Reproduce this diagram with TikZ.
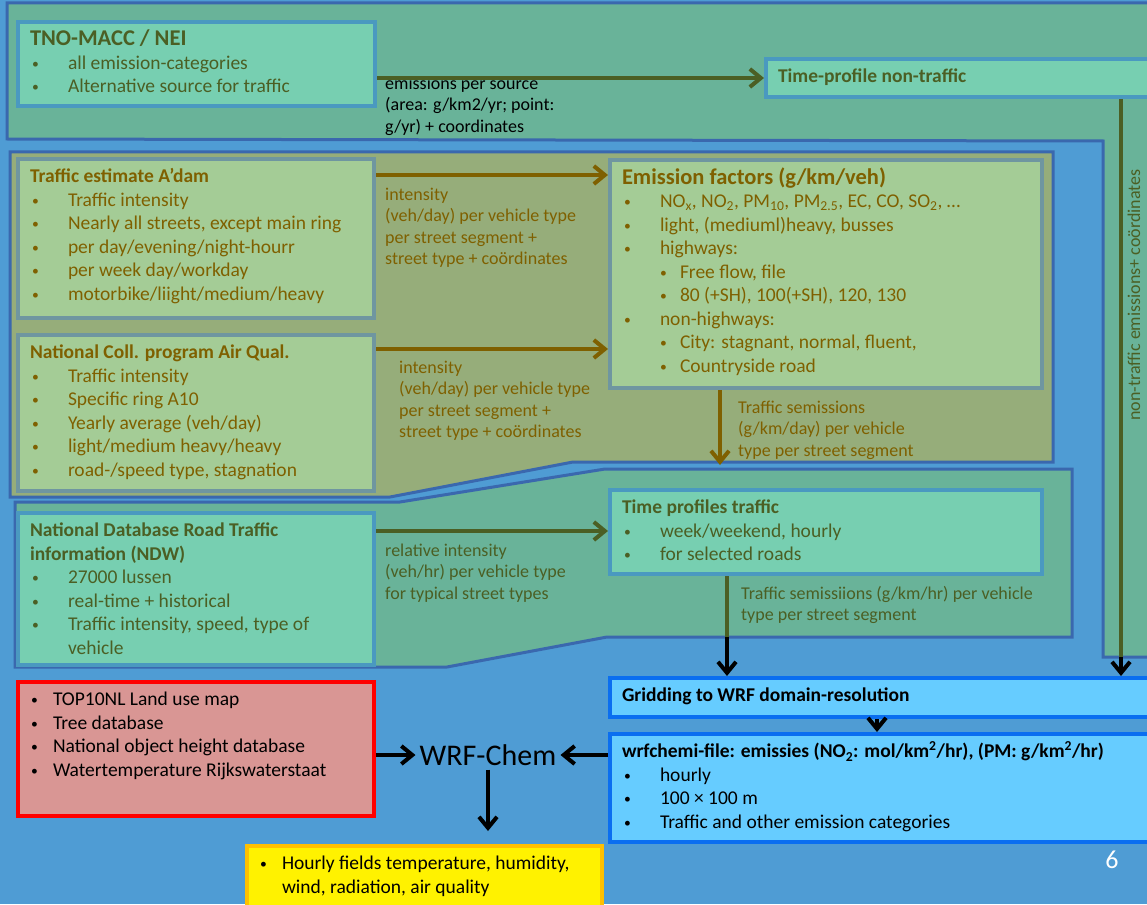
\documentclass[tikz,border=0pt]{standalone}
\usepackage{fontspec}
\usepackage{graphicx}
\setmainfont{Carlito}
\usetikzlibrary{arrows.meta,positioning}
\definecolor{slide}{HTML}{4F9CD4}
\definecolor{tealpanel}{HTML}{69B399}
\definecolor{olivepanel}{HTML}{96AD7A}
\definecolor{panelline}{HTML}{3A68AE}
\definecolor{tealbox}{HTML}{77CFB1}
\definecolor{tealline}{HTML}{4A99C0}
\definecolor{greenbox}{HTML}{A4CC96}
\definecolor{greenline}{HTML}{6F96A0}
\definecolor{darkgreen}{HTML}{4B5F24}
\definecolor{ochre}{HTML}{7F6000}
\definecolor{skybox}{HTML}{66CCFF}
\definecolor{skyline}{HTML}{0A6EF0}
\definecolor{redbox}{HTML}{D99694}
\definecolor{orangeline}{HTML}{FFC000}
\newcommand{\boxfont}{\fontsize{19.5}{23.5}\selectfont}
\newcommand{\lblfont}{\fontsize{18}{21.5}\selectfont}
\newcommand{\bigtitle}[1]{{\fontsize{22.5}{23.5}\selectfont\textbf{#1}}}
\newcommand{\bx}[3]{\begin{minipage}[t][#2][t]{#1}\raggedright\strut#3\end{minipage}}
\newcommand{\blk}[2]{\begin{minipage}[t]{#1}\raggedright\strut#2\end{minipage}}
\newcommand{\dotb}{\raisebox{1pt}{\scalebox{0.7}{\textbullet}}}
\newcommand{\itm}[1]{\makebox[38pt][l]{\hspace*{2pt}\dotb}#1}
\newcommand{\sitm}[1]{\hspace*{38pt}\makebox[20pt][l]{\dotb}#1}
\newcommand{\itmn}[1]{\makebox[23pt][l]{\hspace*{1pt}\dotb}#1}
\tikzset{%
  panel/.style  = {draw=panelline, line width=3pt},%
  srcbox/.style = {draw=tealline, fill=tealbox, line width=4pt, anchor=north west,%
                   inner xsep=12pt, inner ysep=7.5pt, text=darkgreen, font=\boxfont},%
  trfbox/.style = {srcbox, draw=greenline, fill=greenbox, text=ochre},%
  wrfbox/.style = {srcbox, draw=skyline, fill=skybox, text=black},%
  lbl/.style    = {anchor=north west, inner sep=0pt, font=\lblfont},%
  flow/.style   = {line width=4pt, -{Straight Barb[length=11pt,width=18pt]}}%
}
\begin{document}
\begin{tikzpicture}[x=1pt, y=-1pt]
  \fill[slide] (0,0) rectangle (1147,904);
  \useasboundingbox (0,0) rectangle (1147,904);
  % panels
  \draw[panel, fill=tealpanel] (7,3) -- (1152,3) -- (1152,657) -- (1103,657) -- (1103,141) -- (7,139) -- cycle;
  \draw[panel, fill=olivepanel] (10,152) -- (1053,152) -- (1053,462) -- (573,462) -- (390,497) -- (10,497) -- cycle;
  \draw[panel, fill=tealpanel] (15,502) -- (400,502) -- (605,469) -- (1072,469) -- (1072,637) -- (607,637) -- (447,667) -- (15,667) -- cycle;
  % sources
  \node[srcbox] (tno) at (16,20) {\bx{333pt}{69pt}{\bigtitle{TNO-MACC / NEI}\\
      \itm{all emission-categories}\\
      \itm{Alternative source for traffic}}};
  \node[srcbox] (tpnt) at (764,57) {\bx{366pt}{23pt}{\textbf{Time-profile non-traffic}}};
  \node[trfbox] (tea) at (16,157) {\bx{332pt}{144pt}{\textbf{Traffic estimate A’dam}\\
      \itm{Traffic intensity}\\
      \itm{Nearly all streets, except main ring}\\
      \itm{per day/evening/night-hourr}\\
      \itm{per week day/workday}\\
      \itm{motorbike/liight/medium/heavy}}};
  \node[trfbox] (ncp) at (16,333) {\bx{332pt}{141pt}{\textbf{National Coll. program Air Qual.}\\
      \itm{Traffic intensity}\\
      \itm{Specific ring A10}\\
      \itm{Yearly average (veh/day)}\\
      \itm{light/medium heavy/heavy}\\
      \itm{road-/speed type, stagnation}}};
  \node[trfbox] (ef) at (608,158) {\bx{408pt}{213pt}{\bigtitle{Emission factors (g/km/veh)}\\
      \itm{NO\textsubscript{x}, NO\textsubscript{2}, PM\textsubscript{10}, PM\textsubscript{2.5}, EC, CO, SO\textsubscript{2}, \dots}\\
      \itm{light, (mediuml)heavy, busses}\\
      \itm{highways:}\\
      \sitm{Free flow, file}\\
      \sitm{80 (+SH), 100(+SH), 120, 130}\\
      \itm{non-highways:}\\
      \sitm{City: stagnant, normal, fluent,}\\
      \sitm{Countryside road}}};
  \node[srcbox] (ndw) at (16,511) {\bx{332pt}{137pt}{\textbf{National Database Road Traffic}\\
      \textbf{information (NDW)}\\
      \itm{27000 lussen}\\
      \itm{real-time + historical}\\
      \itm{Traffic intensity, speed, type of}\\
      \hspace*{38pt}vehicle}};
  \node[srcbox] (tpt) at (608,488) {\bx{408pt}{69pt}{\textbf{Time profiles traffic}\\
      \itm{week/weekend, hourly}\\
      \itm{for selected roads}}};
  % wrf part
  \node[wrfbox] (grid) at (608,676) {\bx{521pt}{24pt}{\textbf{Gridding to WRF domain-resolution}}};
  \node[wrfbox] (wrfc) at (608,732) {\bx{521pt}{93pt}{\textbf{wrfchemi-file: emissies (NO\textsubscript{2}: mol/km\textsuperscript{2}/hr), (PM: g/km\textsuperscript{2}/hr)}\\
      \itm{hourly}\\
      \itm{100 × 100 m}\\
      \itm{Traffic and other emission categories}}};
  \node[srcbox, draw=red, fill=redbox, text=black] (land) at (16,680) {\bx{332pt}{119pt}{\itmn{TOP10NL Land use map}\\
      \itmn{Tree database}\\
      \itmn{National object height database}\\
      \itmn{Watertemperature Rijkswaterstaat}}};
  \node[srcbox, draw=orangeline, fill=yellow, text=black] (hourly) at (245,844) {\bx{331pt}{55pt}{\itmn{Hourly fields temperature, humidity,}\\
      \hspace*{23pt}wind, radiation, air quality}};
  \node[font=\fontsize{30}{36}\selectfont, inner sep=4pt] (wrf) at (488,755) {WRF-Chem};
  \node[text=white, font=\fontsize{26}{30}\selectfont] (pgno) at (1112,860) {6};
  % labels
  \node[lbl, text=black] (emlbl) at (385,74) {\blk{230pt}{emissions per source\\(area: g/km2/yr; point:\\g/yr) + coordinates}};
  \node[lbl, text=ochre] (in1lbl) at (385,185) {\blk{230pt}{intensity\\(veh/day) per vehicle type\\per street segment +\\street type + coördinates}};
  \node[lbl, text=ochre] (in2lbl) at (399,358) {\blk{230pt}{intensity\\(veh/day) per vehicle type\\per street segment +\\street type + coördinates}};
  \node[lbl, text=darkgreen] (rilbl) at (385,541) {\blk{230pt}{relative intensity\\(veh/hr) per vehicle type\\for typical street types}};
  \node[lbl, text=ochre] (ts1lbl) at (738,398) {\blk{230pt}{Traffic semissions\\(g/km/day) per vehicle\\type per street segment}};
  \node[lbl, text=darkgreen] (ts2lbl) at (741,584) {\blk{320pt}{Traffic semissiions (g/km/hr) per vehicle\\type per street segment}};
  \node[rotate=90, text=darkgreen, font=\lblfont] (ntlbl) at (1134,295) {non-traffic emissions+ coördinates};
  % connectors
  \coordinate (i1) at ([yshift=-18pt]tea.north east);
  \coordinate (i2) at ([yshift=-16pt]ncp.north east);
  \coordinate (i3) at ([yshift=-20pt]ndw.north east);
  \coordinate (e1) at ([xshift=112pt]ef.south west);
  \coordinate (t1) at ([xshift=119pt]tpt.south west);
  \coordinate (n1) at ([xshift=357pt]tpnt.south west);
  \coordinate (g1) at ([xshift=269pt]grid.south west);
  \coordinate (oliveedge) at (0,465);
  \coordinate (greenedge) at (0,637);
  \coordinate (stripedge) at (0,657);
  \draw[flow, darkgreen] (tno.east |- tpnt.west) -- (tpnt.west);
  \draw[flow, ochre] (i1) -- (i1 -| ef.west);
  \draw[flow, ochre] (i2) -- (i2 -| ef.west);
  \draw[flow, darkgreen] (i3) -- (i3 -| tpt.west);
  \draw[flow, ochre] (e1) -- (e1 |- oliveedge);
  \draw[line width=4pt, darkgreen] (t1) -- (t1 |- greenedge);
  \draw[flow] (t1 |- greenedge) -- (t1 |- grid.north);
  \draw[line width=4pt, darkgreen] (n1) -- (n1 |- stripedge);
  \draw[flow] (n1 |- stripedge) -- (n1 |- grid.north);
  \draw[flow] (g1) -- (g1 |- wrfc.north);
  \draw[flow] (wrfc.west |- wrf) -- (wrf.east);
  \draw[flow] (land.east |- wrf) -- (wrf.west);
  \draw[flow, shorten >=13pt] (wrf.south) -- (wrf.south |- hourly.north);
\end{tikzpicture}
\end{document}
